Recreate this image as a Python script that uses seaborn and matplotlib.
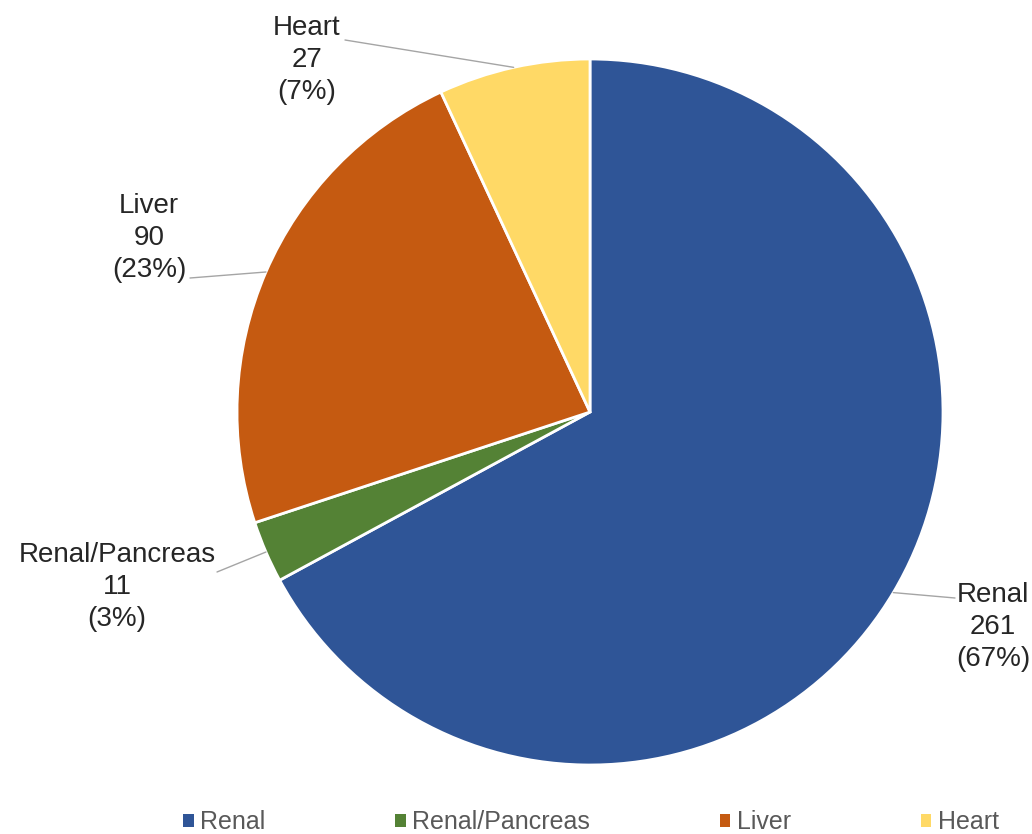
import numpy as np
import matplotlib
matplotlib.use("Agg")
import matplotlib.pyplot as plt
from matplotlib.patches import Patch
import seaborn as sns

# ---- data ----
categories = ["Renal", "Renal/Pancreas", "Liver", "Heart"]
counts = [261, 11, 90, 27]
percents = ["67%", "3%", "23%", "7%"]
colors = ["#2F5597", "#548235", "#C55A11", "#FFD966"]

sns.set_theme(style="white")
plt.rcParams['font.family'] = ['Liberation Sans', 'DejaVu Sans']

W, H = 1032, 834
CX, CY, R = 590, 412, 353
fig = plt.figure(figsize=(W / 100, H / 100), dpi=100)
ax = fig.add_axes([0, 0, 1, 1])

palette = sns.color_palette(colors)
wedges, _ = ax.pie(counts, colors=palette, startangle=90, counterclock=False,
                   radius=1.0, wedgeprops=dict(edgecolor="white", linewidth=2))

ax.set_xlim(-CX / R, (W - CX) / R)
ax.set_ylim((CY - H) / R, CY / R)
ax.set_aspect("auto")
ax.axis("off")

def px(x, y):
    return ((x - CX) / R, (CY - y) / R)

# label layout (pixel positions): text centre, leader start
label_pos = {
    "Renal": (993, 627),
    "Renal/Pancreas": (117, 587),
    "Liver": (149, 238),
    "Heart": (307, 60),
}
leader_start = {
    "Renal": (955, 598),
    "Renal/Pancreas": (217, 572),
    "Liver": (190, 278),
    "Heart": (345, 40),
}

for w, cat, n, p in zip(wedges, categories, counts, percents):
    mid = np.deg2rad((w.theta1 + w.theta2) / 2)
    ex, ey = np.cos(mid), np.sin(mid)
    sx, sy = px(*leader_start[cat])
    ax.plot([sx, ex], [sy, ey], color="#A5A5A5", lw=1.0, clip_on=False, zorder=1)
    tx, ty = px(*label_pos[cat])
    ax.text(tx, ty, f"{cat}\n{n}\n({p})", ha="center", va="center",
            fontsize=20, color="#262626", linespacing=1.28)

handles = [Patch(facecolor=c, edgecolor="none") for c in palette]
leg = fig.legend(handles, categories, loc="center", bbox_to_anchor=(591 / W, 1 - 822 / H),
                 ncol=4, frameon=False, handlelength=0.42, handleheight=0.42,
                 handletextpad=0.28, columnspacing=5.17, borderpad=0.0,
                 prop=dict(family=['Liberation Sans', 'DejaVu Sans'], size=18))
for t in leg.get_texts():
    t.set_color("#595959")

fig.savefig("out.png", dpi=100)
